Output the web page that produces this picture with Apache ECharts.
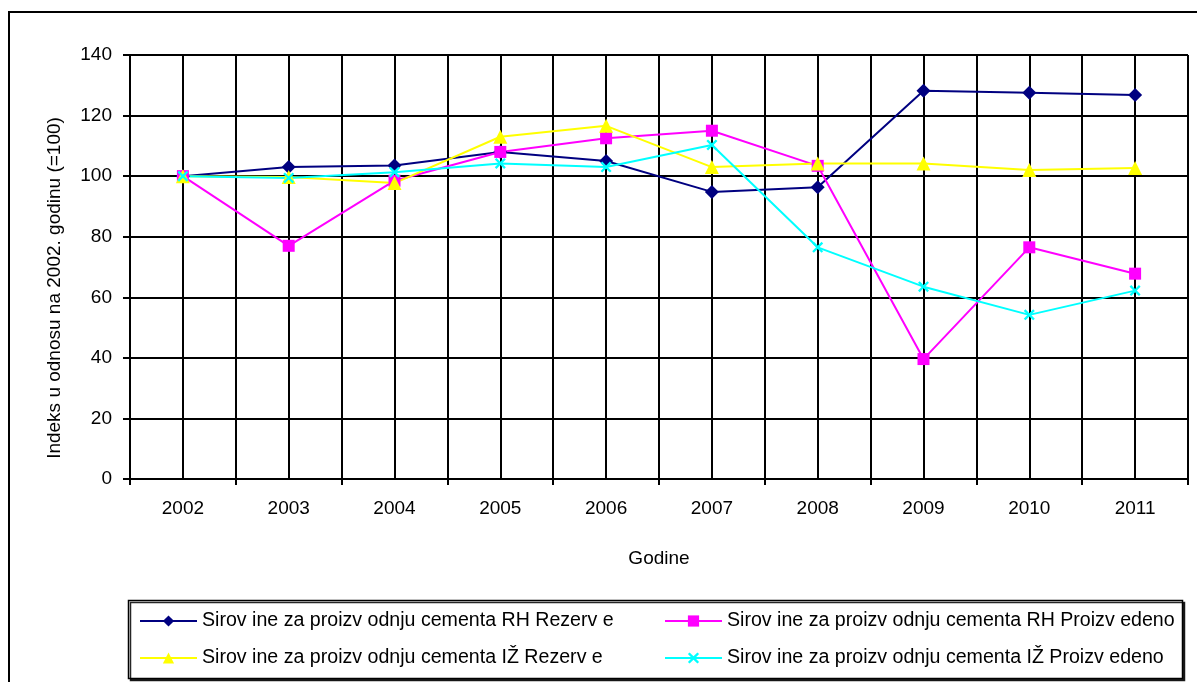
<!DOCTYPE html>
<html>
<head>
<meta charset="utf-8">
<script src="https://cdn.jsdelivr.net/npm/echarts@6/dist/echarts.min.js"></script>
<style>
html,body{margin:0;padding:0;background:#fff;}
#chart{width:1197px;height:682px;}
</style>
</head>
<body>
<div id="chart"></div>
<script>
const categories = ['2002','2003','2004','2005','2006','2007','2008','2009','2010','2011'];
const rhRezerve = [100, 103, 103.5, 108, 105, 94.8, 96.3, 128.2, 127.5, 126.8];
const rhProizvedeno = [100, 77, 98.5, 108, 112.5, 115, 103.4, 39.6, 76.5, 67.8];
const izRezerve = [100, 99.7, 97.7, 113, 116.6, 103, 104.2, 104.2, 102, 102.7];
const izProizvedeno = [100, 99.4, 101.3, 104.2, 103, 110.3, 76.5, 63.5, 54.2, 62.2];
const seriesNames = [
  'Sirov ine za proizv odnju cementa RH Rezerv e',
  'Sirov ine za proizv odnju cementa RH Proizv edeno',
  'Sirov ine za proizv odnju cementa IŽ Rezerv e',
  'Sirov ine za proizv odnju cementa IŽ Proizv edeno'
];
const yTicks = {min: 0, max: 140, interval: 20};

const font = 'Liberation Sans, Arial, sans-serif';
const xSym = 'path://M0,1.5L1.5,0L5,3.5L8.5,0L10,1.5L6.5,5L10,8.5L8.5,10L5,6.5L1.5,10L0,8.5L3.5,5Z';

const chart = echarts.init(document.getElementById('chart'), null, {renderer: 'canvas'});

function mk(name, data, color, symbol, size) {
  return {
    name: name, type: 'line', data: data, xAxisIndex: 0, yAxisIndex: 0,
    symbol: symbol, symbolSize: size, showAllSymbol: true,
    lineStyle: {color: color, width: 2},
    itemStyle: {color: color},
    emphasis: {disabled: true},
    animation: false
  };
}

const legendText = {fontFamily: font, fontSize: 19.6, lineHeight: 20, color: '#000'};

chart.setOption({
  animation: false,
  backgroundColor: '#fff',
  textStyle: {fontFamily: font},
  graphic: [
    {type: 'rect', z: 0, shape: {x: 9, y: 12, width: 1200, height: 700},
     style: {fill: 'none', stroke: '#000', lineWidth: 2}},
    {type: 'rect', z: 0, shape: {x: 128.5, y: 600.5, width: 1054, height: 78},
     style: {fill: '#fff', stroke: '#000', lineWidth: 1.5,
             shadowColor: 'rgba(0,0,0,0.85)', shadowOffsetX: 2, shadowOffsetY: 2, shadowBlur: 0}}
  ],
  grid: {left: 130, right: 9, top: 55, bottom: 203, containLabel: false},
  legend: [
    {data: [seriesNames[0], seriesNames[2]], orient: 'vertical', left: 134, top: 606,
     itemWidth: 57, itemHeight: 14, itemGap: 17, z: 5, textStyle: legendText},
    {data: [seriesNames[1], seriesNames[3]], orient: 'vertical', left: 659, top: 606,
     itemWidth: 57, itemHeight: 14, itemGap: 17, z: 5, textStyle: legendText}
  ],
  xAxis: [
    {type: 'category', data: categories, boundaryGap: true,
     name: 'Godine', nameLocation: 'middle', nameGap: 70,
     nameTextStyle: {fontFamily: font, fontSize: 19, color: '#000'},
     axisLine: {lineStyle: {color: '#000', width: 2}},
     axisTick: {show: true, alignWithLabel: false, length: 6, lineStyle: {color: '#000', width: 2}},
     axisLabel: {color: '#000', fontSize: 19, fontFamily: font, margin: 20},
     splitLine: {show: true, lineStyle: {color: '#000', width: 2}},
     z: 3},
    {type: 'value', min: 0, max: 20, interval: 1, show: true, position: 'top',
     axisLine: {show: false}, axisTick: {show: false}, axisLabel: {show: false},
     splitLine: {show: true, lineStyle: {color: '#000', width: 2}}}
  ],
  yAxis: {
    type: 'value', min: yTicks.min, max: yTicks.max, interval: yTicks.interval,
    name: 'Indeks u odnosu na 2002. godinu (=100)', nameLocation: 'middle', nameGap: 66,
    nameTextStyle: {fontFamily: font, fontSize: 19, color: '#000', padding: [0, 42, 0, 0]},
    axisLine: {show: true, lineStyle: {color: '#000', width: 2}},
    axisTick: {show: true, length: 7, lineStyle: {color: '#000', width: 2}},
    axisLabel: {color: '#000', fontSize: 19, fontFamily: font, margin: 18},
    splitLine: {show: true, lineStyle: {color: '#000', width: 2}}
  },
  series: [
    mk(seriesNames[0], rhRezerve, '#000080', 'diamond', 14),
    mk(seriesNames[1], rhProizvedeno, '#FF00FF', 'rect', 12),
    mk(seriesNames[2], izRezerve, '#FFFF00', 'triangle', 14),
    mk(seriesNames[3], izProizvedeno, '#00FFFF', xSym, 11)
  ]
});
</script>
</body>
</html>
